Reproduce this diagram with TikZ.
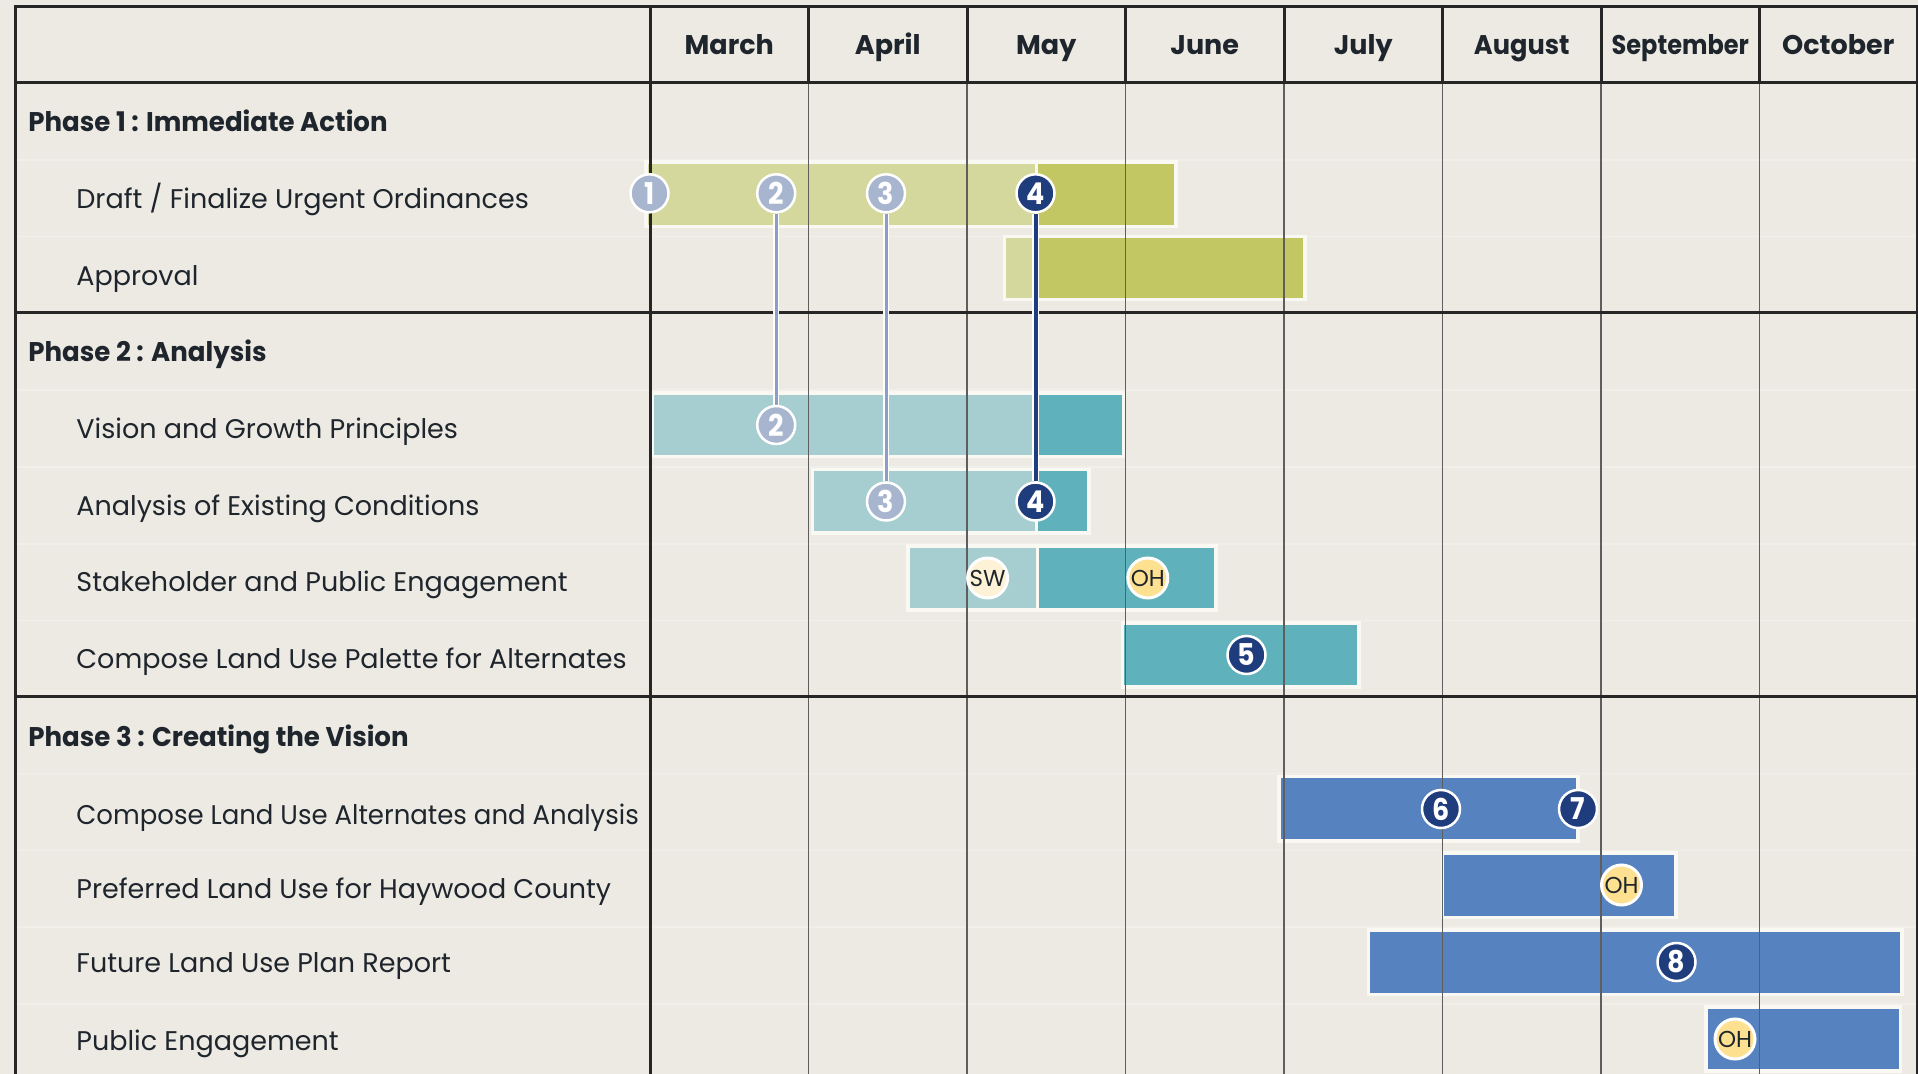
\documentclass[tikz,border=0pt]{standalone}
\usepackage{fontspec}
\setmainfont{Poppins}
\newfontfamily\numfont{Poppins}[FakeStretch=0.9]
\definecolor{paper}{HTML}{EDEAE3}
\definecolor{ink}{HTML}{1E252C}
\definecolor{framecol}{HTML}{262626}
\definecolor{gridcol}{HTML}{5E5E5E}
\definecolor{rowcol}{HTML}{F1EFEA}
\definecolor{barrim}{HTML}{FAF8F3}
\definecolor{oliveL}{HTML}{D5D89C}
\definecolor{oliveD}{HTML}{C2C764}
\definecolor{tealL}{HTML}{A6CED0}
\definecolor{tealD}{HTML}{5FB2BB}
\definecolor{blueD}{HTML}{5683BF}
\definecolor{navy}{HTML}{1F3C7C}
\definecolor{mist}{HTML}{A8B5CE}
\definecolor{linkgray}{HTML}{8D9EC4}
\definecolor{ohyellow}{HTML}{FDE090}
\definecolor{swcream}{HTML}{FDF2D6}
\pgfdeclarelayer{bars}
\pgfdeclarelayer{grid}
\pgfdeclarelayer{links}
\pgfsetlayers{bars,grid,links,main}
\tikzset{
  tasklbl/.style={inner sep=0pt, anchor=base west, text=ink, font=\fontsize{13.5}{16}\selectfont},
  phaselbl/.style={tasklbl, font=\bfseries\fontsize{13.5}{16}\selectfont\addfontfeature{FakeStretch=0.965}},
  monthlbl/.style={inner sep=0pt, anchor=base, text=ink, font=\bfseries\fontsize{13.5}{16}\selectfont},
  barbox/.style={draw=barrim, line width=1.75pt},
  framerule/.style={draw=framecol, line width=1.5pt},
  monthrule/.style={draw=gridcol, line width=0.7pt},
  rowrule/.style={draw=rowcol, line width=0.6pt},
  msbase/.style={circle, draw=white, line width=1.25pt, minimum size=19pt, inner sep=0pt, text=white, font=\numfont\bfseries\fontsize{15}{15}\selectfont},
  msdone/.style={msbase, fill=mist},
  msnext/.style={msbase, fill=navy},
  evt/.style={circle, draw=white, line width=1.5pt, minimum size=20pt, inner sep=0pt, text=ink, font=\fontsize{11.5}{11.5}\selectfont},
  ohevt/.style={evt, fill=ohyellow},
  swevt/.style={evt, fill=swcream},
  linkdone/.style={draw=white, line width=0.7pt, double=linkgray, double distance=1.5pt},
  linknext/.style={draw=white, line width=0.7pt, double=navy, double distance=2pt}
}
\begin{document}
\begin{tikzpicture}[x=0.5pt,y=-0.5pt]
\useasboundingbox (0,0) rectangle (1918,1074);

% ---------- background, row rules and bars ----------
\begin{pgfonlayer}{bars}
  \fill[paper] (0,0) rectangle (1918,1074);
  \foreach \y in {160,236.6,390,467,544,620.6,773.5,850.3,927,1004}
    \draw[rowrule] (15,\y) -- (1917,\y);
  % Phase 1
  \path[barbox, fill=oliveL] (646,162) rectangle (1040,226.5);
  \path[barbox, fill=oliveD] (1036.5,162) rectangle (1176,226.5);
  \path[barbox, fill=oliveL] (1004.6,236.3) rectangle (1042,299.7);
  \path[barbox, fill=oliveD] (1037,236.3) rectangle (1305,299.7);
  % Phase 2
  \path[barbox, fill=tealL] (652,393) rectangle (1040,456.3);
  \path[barbox, fill=tealD] (1037.5,393) rectangle (1124,456.3);
  \path[barbox, fill=tealL] (812.5,469.7) rectangle (1040,533);
  \path[barbox, fill=tealD] (1036.5,469.7) rectangle (1089,533);
  \path[barbox, fill=tealL] (908,546) rectangle (1040,610);
  \path[barbox, fill=tealD] (1037.5,546) rectangle (1216,610);
  \path[barbox, fill=tealD] (1122.4,623) rectangle (1359,687);
  % Phase 3
  \path[barbox, fill=blueD] (1279,776.7) rectangle (1578,841);
  \path[barbox, fill=blueD] (1442.7,853) rectangle (1676,917.7);
  \path[barbox, fill=blueD] (1368.6,930) rectangle (1901.8,994.7);
  \path[barbox, fill=blueD] (1706,1007) rectangle (1900.5,1071);
\end{pgfonlayer}

% ---------- table grid ----------
\begin{pgfonlayer}{grid}
  \foreach \x in {808.5,967,1125.5,1284,1442.5,1601,1759.5} {
    \draw[monthrule] (\x,83) -- (\x,1074);
    \draw[framerule] (\x,6.5) -- (\x,83);
  }
  \draw[framerule, line join=miter] (15,1074) -- (15,6.5) -- (1917,6.5) -- (1917,1074);
  \draw[framerule] (650,6.5) -- (650,1074);
  \draw[framerule] (15,83) -- (1917,83);
  \draw[framerule] (15,313) -- (1917,313);
  \draw[framerule] (15,697) -- (1917,697);
\end{pgfonlayer}

% ---------- month headings ----------
\node[monthlbl] (mar) at (729.25,55) {March};
\node[monthlbl] (apr) at (887.75,55) {April};
\node[monthlbl] (may) at (1046.25,55) {May};
\node[monthlbl] (jun) at (1204.75,55) {June};
\node[monthlbl] (jul) at (1363.25,55) {July};
\node[monthlbl] (aug) at (1521.75,55) {\addfontfeature{FakeStretch=0.95}August};
\node[monthlbl] (sep) at (1680.25,55) {\addfontfeature{FakeStretch=0.89}September};
\node[monthlbl] (oct) at (1838.25,55) {October};

% ---------- phase and task labels ----------
\node[phaselbl] (p1) at (28,131.7) {Phase 1 : Immediate Action};
\node[tasklbl] (t11) at (76,208.3) {Draft / Finalize Urgent Ordinances};
\node[tasklbl] (t12) at (76,285.5) {Approval};
\node[phaselbl] (p2) at (28,362) {Phase 2 : Analysis};
\node[tasklbl] (t21) at (76,438.8) {Vision and Growth Principles};
\node[tasklbl] (t22) at (76,515.2) {Analysis of Existing Conditions};
\node[tasklbl] (t23) at (76,592) {Stakeholder and Public Engagement};
\node[tasklbl] (t24) at (76,668.8) {Compose Land Use Palette for Alternates};
\node[phaselbl] (p3) at (28,746.5) {Phase 3 : Creating the Vision};
\node[tasklbl] (t31) at (76,824) {\addfontfeature{FakeStretch=0.962}Compose Land Use Alternates and Analysis};
\node[tasklbl] (t32) at (76,898) {Preferred Land Use for Haywood County};
\node[tasklbl] (t33) at (76,972) {Future Land Use Plan Report};
\node[tasklbl] (t34) at (76,1050) {Public Engagement};

% ---------- milestones ----------
\node[msdone] (d1) at (649.5,193.3) {1};
\node[msdone] (d2) at (776.2,193.3) {2};
\node[msdone] (d3) at (886,193.3) {3};
\node[msnext] (d4) at (1035.5,193.3) {4};
\node[msdone] (v2) at (776.2,425) {2};
\node[msdone] (a3) at (886,501.5) {3};
\node[msnext] (a4) at (1035.5,501.5) {4};
\node[swevt] (sw1) at (987.6,578) {SW};
\node[ohevt] (oh1) at (1147.8,578) {OH};
\node[msnext] (m5) at (1246.5,655) {5};
\node[msnext] (m6) at (1441,809) {6};
\node[msnext] (m7) at (1578,809) {7};
\node[ohevt] (oh2) at (1621.5,885) {OH};
\node[msnext] (m8) at (1676.5,962) {8};
\node[ohevt] (oh3) at (1735,1039) {OH};

% ---------- milestone links ----------
\begin{pgfonlayer}{links}
  \draw[linkdone] (d2) -- (v2);
  \draw[linkdone] (d3) -- (a3);
  \draw[linknext] (d4) -- (a4);
\end{pgfonlayer}
\end{tikzpicture}
\end{document}
